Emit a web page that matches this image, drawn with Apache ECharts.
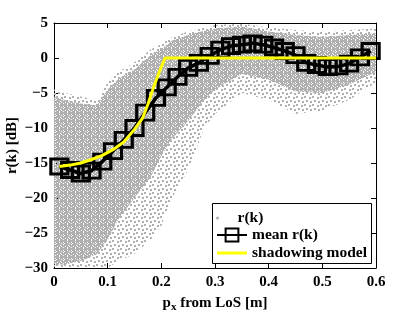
<!DOCTYPE html>
<html><head><meta charset="utf-8">
<script src="https://cdn.jsdelivr.net/npm/echarts@6/dist/echarts.min.js"></script>
<style>html,body{margin:0;padding:0;background:#fff}#c{width:415px;height:313px}</style>
</head><body><div id="c"></div>
<script>
// ---- data ----
var meanX = [0.01,0.03,0.05,0.07,0.09,0.11,0.13,0.15,0.17,0.19,0.21,0.23,0.25,0.27,0.29,0.31,0.33,0.35,0.37,0.39,0.41,0.43,0.45,0.47,0.49,0.51,0.53,0.55,0.57,0.59];
var meanY = [-15.5,-16.0,-16.5,-16.1,-14.8,-13.3,-11.7,-10.0,-7.8,-5.7,-4.2,-2.7,-1.4,-0.7,0.3,1.2,1.7,1.9,2.1,1.9,1.5,1.0,0.4,-0.7,-1.0,-1.3,-1.2,-0.8,0.1,1.0];
var modelX = [0.01,0.03,0.05,0.07,0.09,0.11,0.13,0.15,0.165,0.175,0.185,0.195,0.207,0.6];
var modelY = [-15.5,-15.3,-15.0,-14.5,-13.9,-13.1,-12.0,-10.2,-8.6,-6.6,-4.3,-2.2,0,0];
// cloud of r(k) samples: envelopes (dense core and sparse outer)
var cloudX =      [0,   0.02, 0.05, 0.08, 0.10, 0.12, 0.15, 0.18, 0.20, 0.22, 0.25, 0.28, 0.30, 0.35, 0.40, 0.45, 0.50, 0.55, 0.60];
var denseUpper =  [-5.5,-6.0, -6.5, -6.8, -4.5, -3.0, -1.6, 0.4,  1.3,  2.5,  3.3,  3.9,  4.2,  4.5,  3.8,  3.3,  3.0,  3.3,  3.5];
var denseLower =  [-29.5,-29.5,-29, -28,  -26,  -23,  -20,  -17,  -14,  -11.5,-9.0, -6.0, -4.5, -2.3, -3.1, -4.8, -5.0, -3.8, -2.0];
var sparseUpper = [-4.5,-5.0, -5.5, -6.0, -3.5, -2.0, -0.6, 1.2,  2.0,  3.0,  3.8,  4.4,  4.7,  4.9,  4.4,  4.0,  3.8,  4.0,  4.2];
var sparseLower = [-30, -30,  -30,  -30,  -30,  -29,  -28,  -26,  -24,  -20,  -16,  -10,  -8,   -5,   -6,   -8,   -7.5, -6,   -3.5];
var xTicks = [0,0.1,0.2,0.3,0.4,0.5,0.6];
var yTicks = [-30,-25,-20,-15,-10,-5,0,5];

// ---- styling helpers ----
var DOT = '#b0b0b0';
function makePattern(rows, size){
  var cv = document.createElement('canvas');
  var n = rows.length; cv.width = n*size; cv.height = n*size;
  var g = cv.getContext('2d'); g.fillStyle = DOT;
  for (var r=0;r<n;r++) for (var c=0;c<rows[r].length;c++) if (rows[r][c]==='x') g.fillRect(c*size,r*size,size,size);
  return cv;
}
var densePat = makePattern([
  'xxx.xxxx',
  'x.xxx.xx',
  'xxx.xxx.',
  '.xxxx.xx',
  'xx.xxxx.',
  'xxxx.xxx',
  'x.xxx.xx',
  'xxx.xxx.'], 1);
var sparsePat = makePattern([
  'xx......',
  'xx...xx.',
  '.....xx.',
  '........',
  '..xx....',
  '..xx..xx',
  '......xx',
  '........'], 1);

var font = 'Liberation Serif';
var chart = echarts.init(document.getElementById('c'));
function band(upper, lower, pat, name, z){
  return {
    type:'custom', name:name, coordinateSystem:'cartesian2d', clip:true, z:z,
    data: cloudX.map(function(x,i){return [x, upper[i], lower[i]];}),
    encode:{x:0, y:[1,2]},
    renderItem:function(params, api){
      if (params.dataIndex !== 0) return null;
      var pts = [];
      for (var i=0;i<cloudX.length;i++) pts.push(api.coord([cloudX[i], upper[i]]));
      for (var j=cloudX.length-1;j>=0;j--) pts.push(api.coord([cloudX[j], lower[j]]));
      return {type:'polygon', shape:{points:pts}, style:{fill:{image:pat, repeat:'repeat'}}};
    },
    silent:true
  };
}
var axisLbl = {color:'#000', fontFamily:font, fontWeight:'bold', fontSize:15};
chart.setOption({
  animation:false,
  grid:{left:54, right:39, top:23, bottom:45, containLabel:false, outerBoundsMode:'none'},
  xAxis:[{
    type:'value', min:0, max:0.6, interval:0.1, position:'bottom',
    axisLine:{onZero:false, lineStyle:{color:'#000', width:1}},
    axisTick:{inside:true, length:5, lineStyle:{color:'#000'}},
    axisLabel:Object.assign({margin:7, formatter:function(v){return String(Math.round(v*10)/10);}}, axisLbl),
    splitLine:{show:false},
    name:'{p|p}{s|x}{p| from LoS [m]}', nameLocation:'middle', nameGap:25, nameMoveOverlap:false,
    nameTextStyle:{color:'#000', fontFamily:font, fontWeight:'bold', fontSize:15,
      rich:{p:{fontFamily:font, fontWeight:'bold', fontSize:15, color:'#000'},
            s:{fontFamily:font, fontWeight:'bold', fontSize:11, color:'#000', padding:[9,0,0,0]}}}
  },{
    type:'value', min:0, max:0.6, interval:0.1, position:'top',
    axisLine:{onZero:false, lineStyle:{color:'#000'}}, axisTick:{inside:true, length:5, lineStyle:{color:'#000'}},
    axisLabel:{show:false}, splitLine:{show:false}
  }],
  yAxis:[{
    type:'value', min:-30, max:5, interval:5, position:'left',
    axisLine:{show:true, onZero:false, lineStyle:{color:'#000'}},
    axisTick:{show:true, inside:true, length:5, lineStyle:{color:'#000'}},
    axisLabel:Object.assign({margin:6, formatter:function(v){return String(v).replace('-','\u2212');}}, axisLbl),
    splitLine:{show:false},
    name:'r(k) [dB]', nameLocation:'middle', nameGap:34, nameMoveOverlap:false,
    nameTextStyle:{color:'#000', fontFamily:font, fontWeight:'bold', fontSize:15}
  },{
    type:'value', min:-30, max:5, interval:5, position:'right',
    axisLine:{show:true, onZero:false, lineStyle:{color:'#000'}},
    axisTick:{show:true, inside:true, length:5, lineStyle:{color:'#000'}},
    axisLabel:{show:false}, splitLine:{show:false}
  }],
  graphic:[{type:'rect', left:212, top:203, shape:{width:159, height:60}, style:{fill:'#fff', stroke:'#000', lineWidth:1}, z:50}],
  legend:[{
    z:60, orient:'vertical', left:216, top:210, padding:0, itemWidth:30, itemHeight:3,
    data:[{name:'r(k)', icon:'circle', itemStyle:{color:DOT}}],
    textStyle:{color:'#000', fontFamily:font, fontWeight:'bold', fontSize:15.5}
  },{
    z:60, orient:'vertical', left:216, top:227, padding:0, itemWidth:30, itemHeight:16, itemGap:2,
    data:[{name:'mean r(k)'},
          {name:'shadowing model', icon:'path://M0,0 L30,0 L30,3 L0,3 Z', itemStyle:{color:'#ffff00'}}],
    textStyle:{color:'#000', fontFamily:font, fontWeight:'bold', fontSize:15.5}
  }],
  series:[
    band(sparseUpper, sparseLower, sparsePat, 'r(k)', 1),
    band(denseUpper, denseLower, densePat, 'r(k) core', 1),
    {
      type:'line', name:'mean r(k)', z:5,
      data: meanX.map(function(x,i){return [x, meanY[i]];}),
      lineStyle:{color:'#000', width:3.5},
      symbol:'rect', symbolSize:[17,15],
      itemStyle:{color:'rgba(0,0,0,0)', borderColor:'#000', borderWidth:3},
      emphasis:{disabled:true}
    },
    {
      type:'line', name:'shadowing model', z:6,
      data: modelX.map(function(x,i){return [x, modelY[i]];}),
      lineStyle:{color:'#ffff00', width:3}, itemStyle:{color:'#ffff00'},
      symbol:'none', emphasis:{disabled:true}
    }
  ]
});
</script></body></html>
